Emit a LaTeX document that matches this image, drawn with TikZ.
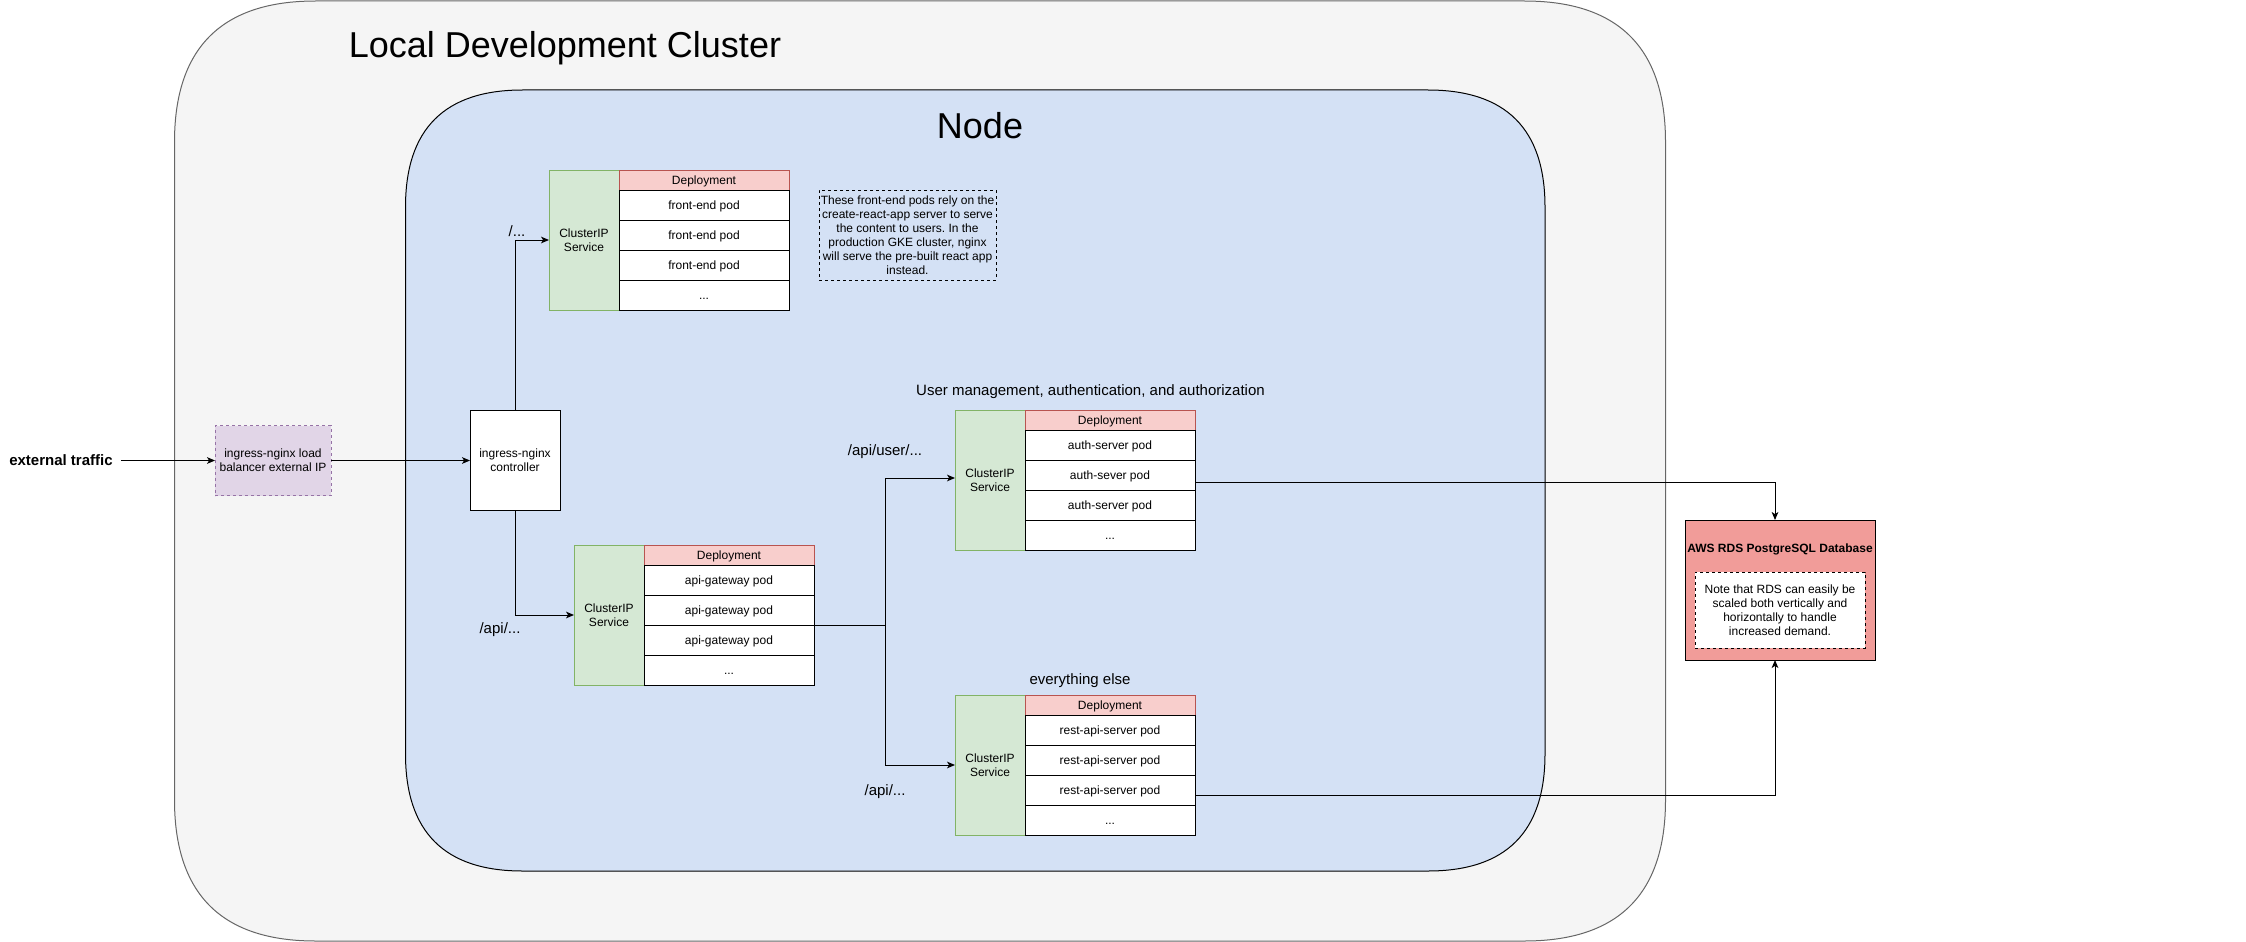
\documentclass[tikz,border=0pt]{standalone}
\usepackage{fontspec}
\setmainfont{Liberation Sans}
\usetikzlibrary{arrows.meta}
\frenchspacing
\definecolor{clfill}{HTML}{F5F5F5}
\definecolor{clline}{HTML}{666666}
\definecolor{ndfill}{HTML}{D4E1F5}
\definecolor{svcfill}{HTML}{D5E8D4}
\definecolor{svcline}{HTML}{82B366}
\definecolor{depfill}{HTML}{F8CECC}
\definecolor{depline}{HTML}{B85450}
\definecolor{lbfill}{HTML}{E1D5E7}
\definecolor{lbline}{HTML}{9673A6}
\definecolor{dbfill}{HTML}{F19C99}
\newcommand{\fsA}{\fontsize{9pt}{10.5pt}\selectfont}
\newcommand{\fsB}{\fontsize{11.25pt}{13.5pt}\selectfont}
\newcommand{\fsT}{\fontsize{27pt}{32pt}\selectfont}
\begin{document}
\begin{tikzpicture}[x=0.75pt,y=-0.75pt,
  base/.style={inner sep=0pt, outer sep=0pt, line width=0.75pt, font=\fsA, align=center},
  sz/.style 2 args={minimum width=#1*0.75pt, minimum height=#2*0.75pt},
  oneline/.style={text height=8.4pt, text depth=2pt},
  svc/.style={base, draw=svcline, fill=svcfill, sz={70}{140}},
  dephead/.style={base, oneline, draw=depline, fill=depfill, sz={170}{20}},
  pod/.style={base, oneline, draw=black, fill=white, sz={170}{30}},
  notebox/.style={base, draw=black, dash pattern=on 2.25pt off 2.25pt},
  arr/.style={-{Stealth[length=6pt,width=5pt,inset=1.6pt]}, line width=0.75pt},
  conn/.style={line width=0.75pt},
  lbl/.style={inner sep=0pt, font=\fsB}]
\useasboundingbox (0,0) rectangle (2246,942);
% containers
\path[fill=clfill, draw=clline, line width=0.75pt]
  (315.5,1) -- (1524.5,1) .. controls (1618.5,1) and (1665.5,48) .. (1665.5,142)
  -- (1665.5,800) .. controls (1665.5,894) and (1618.5,941) .. (1524.5,941)
  -- (315.5,941) .. controls (221.5,941) and (174.5,894) .. (174.5,800)
  -- (174.5,142) .. controls (174.5,48) and (221.5,1) .. cycle;
\path[fill=ndfill, draw=black, line width=0.75pt]
  (522.5,90) -- (1428,90) .. controls (1506,90) and (1545,129) .. (1545,207)
  -- (1545,754) .. controls (1545,832) and (1506,871) .. (1428,871)
  -- (522.5,871) .. controls (444.5,871) and (405.5,832) .. (405.5,754)
  -- (405.5,207) .. controls (405.5,129) and (444.5,90) .. cycle;
\node[font=\fsT, anchor=base, inner sep=0pt] (ttl) at (565,58) {Local Development Cluster};
\node[font=\fsT, anchor=base, inner sep=0pt] (nttl) at (980,138) {Node};
% external traffic and ingress
\node[lbl, font=\fsB\bfseries] (ext) at (61,460.5) {external traffic};
\node[base, draw=lbline, fill=lbfill, dash pattern=on 2.25pt off 2.25pt, sz={116}{70}] (lb) at (273,460.5) {ingress-nginx load\\balancer external IP};
\node[base, draw=black, fill=white, sz={90}{100}] (ctrl) at (515,460) {ingress-nginx\\controller};
% front-end
\node[svc] (fsvc) at (584,240) {ClusterIP\\Service};
\node[dephead] (fdep) at (704,180) {Deployment};
\node[pod] (fp1) at (704,205) {front-end pod};
\node[pod] (fp2) at (704,235) {front-end pod};
\node[pod] (fp3) at (704,265) {front-end pod};
\node[pod] (fp4) at (704,295) {...};
\node[notebox, sz={177}{90}] (fnote) at (907.5,235) {These front-end pods rely on the\\create-react-app server to serve\\the content to users. In the\\production GKE cluster, nginx\\will serve the pre-built react app\\instead.};
% api gateway
\node[svc] (asvc) at (609,615) {ClusterIP\\Service};
\node[dephead] (adep) at (729,555) {Deployment};
\node[pod] (ap1) at (729,580) {api-gateway pod};
\node[pod] (ap2) at (729,610) {api-gateway pod};
\node[pod] (ap3) at (729,640) {api-gateway pod};
\node[pod] (ap4) at (729,670) {...};
% auth
\node[svc] (usvc) at (990,480) {ClusterIP\\Service};
\node[dephead] (udep) at (1110,420) {Deployment};
\node[pod] (up1) at (1110,445) {auth-server pod};
\node[pod] (up2) at (1110,475) {auth-sever pod};
\node[pod] (up3) at (1110,505) {auth-server pod};
\node[pod] (up4) at (1110,535) {...};
% rest
\node[svc] (rsvc) at (990,765) {ClusterIP\\Service};
\node[dephead] (rdep) at (1110,705) {Deployment};
\node[pod] (rp1) at (1110,730) {rest-api-server pod};
\node[pod] (rp2) at (1110,760) {rest-api-server pod};
\node[pod] (rp3) at (1110,790) {rest-api-server pod};
\node[pod] (rp4) at (1110,820) {...};
% database
\node[base, draw=black, fill=dbfill, sz={190}{140}] (db) at (1780,590) {};
\node[inner sep=0pt, font=\fsA\bfseries] (dbt) at (1780,549) {AWS RDS PostgreSQL Database};
\node[notebox, fill=white, sz={170}{76}] (dbn) at (1780,610) {Note that RDS can easily be\\scaled both vertically and\\horizontally to handle\\increased demand.};
% labels
\node[lbl] (lf) at (517,231) {/...};
\node[lbl] (la1) at (500,630) {/api/...};
\node[lbl] (lau) at (885,452) {/api/user/...};
\node[lbl] (la2) at (885,792) {/api/...};
\node[lbl] (lum) at (1090.5,391.5) {User management, authentication, and authorization};
\node[lbl] (lee) at (1080,681) {everything else};
% connectors
\coordinate (br) at (885,625);
\draw[arr] ([xshift=6pt]ext.east) -- (ext.east -| lb.west);
\draw[arr] (lb.east) -- (lb.east -| ctrl.west);
\draw[arr] (ctrl.north) |- (fsvc.west);
\draw[arr] (ctrl.south) |- (asvc.west);
\draw[conn] (ap2.south east) -- (br);
\draw[arr] (br) |- ([yshift=1.5pt]usvc.west);
\draw[arr] (br) |- (rsvc.west);
\draw[arr] ([yshift=-5.625pt]up2.east) -| ([xshift=-3.75pt]db.north);
\draw[arr] ([yshift=-4.125pt]rp3.east) -| ([xshift=-3.75pt]db.south);
\end{tikzpicture}
\end{document}
